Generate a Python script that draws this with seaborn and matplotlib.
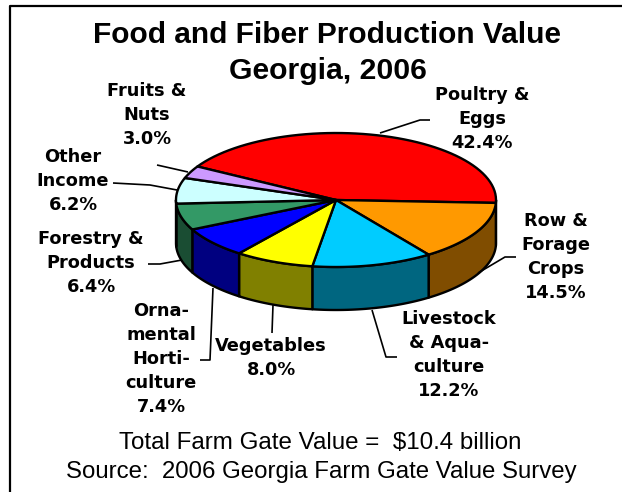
import numpy as np
import matplotlib
matplotlib.use('Agg')
import matplotlib.pyplot as plt
import seaborn as sns

# values, clockwise from the poultry slice
categories = ['Poultry & Eggs', 'Row & Forage Crops', 'Livestock & Aquaculture', 'Vegetables',
              'Ornamental Horticulture', 'Forestry & Products', 'Other Income', 'Fruits & Nuts']
shares = [42.4, 14.5, 12.2, 8.0, 7.4, 6.4, 6.2, 3.0]
top_colors = ['#FF0000', '#FF9900', '#00CCFF', '#FFFF00', '#0000FF', '#339966', '#CCFFFF', '#CC99FF']

# label text, anchor x, middle y
label_text = ['Poultry &\nEggs\n42.4%', 'Row &\nForage\nCrops\n14.5%', 'Livestock\n& Aqua-\nculture\n12.2%',
              'Vegetables\n8.0%', 'Orna-\nmental\nHorti-\nculture\n7.4%', 'Forestry &\nProducts\n6.4%',
              'Other\nIncome\n6.2%', 'Fruits &\nNuts\n3.0%']
label_x = [482, 556, 449, 271, 161, 91, 73, 147]
label_y = [119, 257, 355, 358, 359, 263, 181, 115]

leaders = [[(380, 133), (420, 120), (430, 120)],
           [(478, 273), (505, 257), (516, 257)],
           [(372, 310), (386, 357), (397, 357)],
           [(273, 305), (272, 333)],
           [(213, 288), (210, 360), (200, 360)],
           [(182, 260), (160, 264), (148, 264)],
           [(177, 190), (150, 185), (113, 183)],
           [(188, 172), (157, 165)]]

CX, CY, RX, RY, DEPTH = 336, 200, 160, 67, 43
START = 150.0

sns.set_theme(style='white')
plt.rcParams['font.family'] = ['Liberation Sans', 'DejaVu Sans']

fig = plt.figure(figsize=(6.22, 4.92), dpi=100)
ax = fig.add_axes([0, 0, 1, 1])
ax.set_xlim(0, 622)
ax.set_ylim(492, 0)
ax.axis('off')


def rim(a, b, n=60):
    t = np.radians(np.linspace(a, b, n))
    return CX + RX * np.cos(t), CY - RY * np.sin(t)


palette = sns.color_palette(top_colors)
sides = [tuple(c * 0.5 for c in col) for col in palette]
sweep = np.array(shares) / sum(shares) * 360
ends = START - np.cumsum(sweep)
starts = ends + sweep

# side wall, only the front half of the rim shows
for a, b, col in zip(starts, ends, sides):
    lo, hi = min(a, 0), max(b, -180)
    if hi >= lo:
        continue
    x, y = rim(lo, hi)
    ax.fill(np.r_[x, x[::-1]], np.r_[y, y[::-1] + DEPTH], facecolor=col, edgecolor='black', lw=1.7, joinstyle='round')

# top face
for a, b, col in zip(starts, ends, palette):
    x, y = rim(a, b)
    ax.fill(np.r_[CX, x], np.r_[CY, y], facecolor=col, edgecolor='black', lw=1.7, joinstyle='round')

for pts in leaders:
    xs, ys = zip(*pts)
    ax.plot(xs, ys, color='black', lw=1.2, solid_capstyle='butt')

for txt, x, y in zip(label_text, label_x, label_y):
    ax.text(x, y, txt, ha='center', va='center', family='DejaVu Sans', fontweight='bold',
            fontsize=12.8, linespacing=1.43, color='black')

ax.text(327, 35, 'Food and Fiber Production Value', ha='center', va='center', fontsize=21.5, fontweight='bold', color='black')
ax.text(328, 71, 'Georgia, 2006', ha='center', va='center', fontsize=21.7, fontweight='bold', color='black')
ax.text(320, 443, 'Total Farm Gate Value =  $10.4 billion', ha='center', va='center', fontsize=17.4, color='black')
ax.text(321, 472, 'Source:  2006 Georgia Farm Gate Value Survey', ha='center', va='center', fontsize=17.3, color='black')

# slide frame, left and top edges only
ax.plot([10, 10, 622], [492, 6, 6], color='black', lw=1.6)

fig.savefig('out.png', dpi=100)
